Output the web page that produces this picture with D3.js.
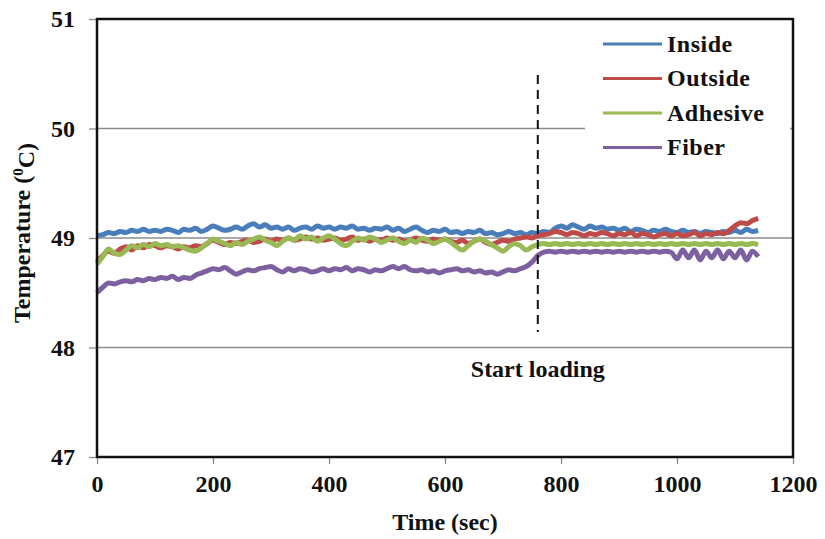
<!DOCTYPE html>
<html>
<head>
<meta charset="utf-8">
<script src="https://cdn.jsdelivr.net/npm/d3@7"></script>
<style>
  body { margin: 0; background: #fff; }
  text { font-family: "Liberation Serif", "Times New Roman", serif; font-weight: bold; fill: #111; }
</style>
</head>
<body>
<div id="chart"></div>
<script>
// time in seconds, one reading every 10 s
var times = d3.range(0, 1150, 10);

var inside = [
  49.02, 49.03, 49.05, 49.04, 49.06, 49.05, 49.07, 49.06, 49.08, 49.06,
  49.07, 49.06, 49.08, 49.07, 49.05, 49.08, 49.07, 49.09, 49.06, 49.08,
  49.11, 49.09, 49.07, 49.08, 49.10, 49.08, 49.11, 49.13, 49.10, 49.12,
  49.09, 49.10, 49.08, 49.10, 49.07, 49.09, 49.10, 49.08, 49.11, 49.09,
  49.10, 49.08, 49.10, 49.09, 49.11, 49.08, 49.09, 49.07, 49.09, 49.08,
  49.10, 49.07, 49.09, 49.06, 49.08, 49.10, 49.07, 49.05, 49.07, 49.06,
  49.08, 49.05, 49.06, 49.04, 49.06, 49.05, 49.07, 49.04, 49.05, 49.03,
  49.04, 49.06, 49.04, 49.05, 49.03, 49.05, 49.04, 49.06, 49.05, 49.09,
  49.11, 49.09, 49.12, 49.10, 49.08, 49.11, 49.09, 49.10, 49.08, 49.09,
  49.07, 49.09, 49.06, 49.08, 49.07, 49.05, 49.07, 49.06, 49.08, 49.06,
  49.05, 49.07, 49.05, 49.06, 49.04, 49.06, 49.05, 49.04, 49.06, 49.05,
  49.07, 49.05, 49.08, 49.06, 49.07
];
var outside = [
  48.78, 48.84, 48.88, 48.86, 48.90, 48.92, 48.89, 48.93, 48.91, 48.94,
  48.93, 48.91, 48.93, 48.92, 48.90, 48.92, 48.91, 48.93, 48.92, 48.95,
  48.98, 48.96, 48.94, 48.96, 48.95, 48.97, 48.98, 48.96, 48.97, 48.99,
  48.97, 48.99, 48.98, 49.00, 48.98, 48.99, 49.01, 48.99, 49.00, 48.98,
  48.99, 49.00, 48.98, 48.99, 49.01, 48.98, 48.99, 48.97, 48.99, 48.98,
  49.00, 48.98, 48.99, 48.97, 48.98, 49.00, 48.98, 48.97, 48.99, 48.98,
  48.99, 48.97, 48.96, 48.98, 48.95, 48.97, 48.99, 48.96, 48.94, 48.96,
  48.98, 48.97, 48.99, 49.00, 49.01, 49.00, 49.02, 49.03, 49.04, 49.06,
  49.05, 49.03, 49.05, 49.04, 49.02, 49.04, 49.03, 49.05, 49.04, 49.02,
  49.04, 49.03, 49.05, 49.02, 49.04, 49.03, 49.01, 49.03, 49.04, 49.02,
  49.04, 49.02, 49.03, 49.05, 49.02, 49.04, 49.03, 49.05, 49.04, 49.07,
  49.11, 49.14, 49.13, 49.16, 49.18
];
var adhesive = [
  48.76, 48.83, 48.90, 48.86, 48.85, 48.89, 48.93, 48.91, 48.94, 48.92,
  48.95, 48.93, 48.94, 48.92, 48.93, 48.91, 48.89, 48.88, 48.91, 48.95,
  48.99, 48.97, 48.95, 48.93, 48.96, 48.94, 48.97, 48.99, 49.01, 48.98,
  48.96, 48.93, 48.97, 49.00, 48.98, 49.02, 48.99, 49.01, 48.97, 49.00,
  49.02, 48.99, 48.95, 48.93, 48.97, 49.00, 48.98, 49.01, 48.99, 48.96,
  48.98, 49.00, 48.97, 48.95, 48.98, 48.96, 49.00, 48.98, 48.95, 48.97,
  48.99, 48.96, 48.92, 48.89, 48.93, 48.97, 48.99, 48.97, 48.94, 48.91,
  48.88, 48.92, 48.95, 48.93, 48.89, 48.92, 48.94, 48.95, 48.94, 48.95,
  48.94, 48.95, 48.94, 48.95, 48.94, 48.95, 48.94, 48.95, 48.94, 48.95,
  48.94, 48.95, 48.94, 48.95, 48.94, 48.95, 48.94, 48.95, 48.94, 48.95,
  48.94, 48.95, 48.94, 48.95, 48.94, 48.95, 48.94, 48.95, 48.94, 48.95,
  48.94, 48.95, 48.94, 48.95, 48.94
];
var fiber = [
  48.50, 48.55, 48.59, 48.58, 48.60, 48.61, 48.60, 48.62, 48.61, 48.63,
  48.62, 48.64, 48.63, 48.65, 48.62, 48.64, 48.63, 48.66, 48.68, 48.70,
  48.72, 48.71, 48.73, 48.70, 48.67, 48.69, 48.71, 48.70, 48.72, 48.73,
  48.74, 48.71, 48.69, 48.72, 48.70, 48.72, 48.71, 48.69, 48.70, 48.72,
  48.70, 48.72, 48.71, 48.73, 48.70, 48.72, 48.71, 48.69, 48.71, 48.70,
  48.72, 48.74, 48.72, 48.74, 48.71, 48.70, 48.71, 48.69, 48.70, 48.68,
  48.70, 48.71, 48.72, 48.70, 48.71, 48.69, 48.70, 48.68, 48.69, 48.67,
  48.69, 48.71, 48.70, 48.72, 48.74, 48.78, 48.84, 48.87, 48.88, 48.87,
  48.88, 48.87, 48.88, 48.87, 48.88, 48.87, 48.88, 48.87, 48.88, 48.87,
  48.88, 48.87, 48.88, 48.87, 48.88, 48.87, 48.88, 48.87, 48.88, 48.87,
  48.81, 48.89, 48.82, 48.89, 48.80, 48.88, 48.82, 48.89, 48.81, 48.88,
  48.82, 48.89, 48.80, 48.88, 48.83
];

var seriesNames = ["Inside", "Outside", "Adhesive", "Fiber"];
var seriesValues = [inside, outside, adhesive, fiber];
var seriesColors = ["#4a7ebb", "#be4b48", "#98b954", "#7d60a0"];
var loadingTime = 760;

var xTicks = [0, 200, 400, 600, 800, 1000, 1200];
var yTicks = [47, 48, 49, 50, 51];

var W = 825, H = 539;
var margin = {left: 97, right: 32, top: 19, bottom: 82};
var fontPx = "24px";

var svg = d3.select("#chart").append("svg")
    .attr("width", W)
    .attr("height", H);

var x = d3.scaleLinear().domain([0, 1200]).range([margin.left, W - margin.right]);
var y = d3.scaleLinear().domain([47, 51]).range([H - margin.bottom, margin.top]);

// gridlines
svg.append("g")
    .selectAll("line")
    .data(yTicks.filter(d => d > 47 && d < 51))
    .join("line")
    .attr("x1", x(0)).attr("x2", x(1200))
    .attr("y1", d => y(d)).attr("y2", d => y(d))
    .attr("stroke", "#8c8c8c")
    .attr("stroke-width", 1.3);

// axes
var yAxis = svg.append("g")
    .attr("transform", `translate(${x(0)},0)`)
    .call(d3.axisLeft(y).tickValues(yTicks).tickSize(8).tickPadding(14).tickFormat(d3.format("d")));
var xAxis = svg.append("g")
    .attr("transform", `translate(0,${y(47)})`)
    .call(d3.axisBottom(x).tickValues(xTicks).tickSize(7).tickPadding(11).tickFormat(d3.format("d")));
[yAxis, xAxis].forEach(a => {
    a.select(".domain").remove();
    a.selectAll(".tick line").attr("stroke", "#8c8c8c").attr("stroke-width", 1.3);
    a.selectAll(".tick text")
        .style("font-family", "'Liberation Serif', 'Times New Roman', serif")
        .style("font-weight", "bold")
        .style("font-size", fontPx)
        .attr("fill", "#111");
});

// series
var line = d3.line()
    .x((d, i) => x(times[i]))
    .y(d => y(d))
    .curve(d3.curveMonotoneX);

svg.append("g")
    .selectAll("path")
    .data(seriesValues)
    .join("path")
    .attr("d", d => line(d))
    .attr("fill", "none")
    .attr("stroke", (d, i) => seriesColors[i])
    .attr("stroke-width", 5)
    .attr("stroke-linejoin", "round");

// start of loading marker
svg.append("line")
    .attr("x1", x(loadingTime)).attr("x2", x(loadingTime))
    .attr("y1", 75).attr("y2", 332)
    .attr("stroke", "#111")
    .attr("stroke-width", 2)
    .attr("stroke-dasharray", "9,6");

svg.append("text")
    .attr("x", x(loadingTime))
    .attr("y", 377)
    .attr("text-anchor", "middle")
    .style("font-size", fontPx)
    .text("Start loading");

// legend
var legend = svg.append("g");
legend.append("rect")
    .attr("x", 585).attr("y", 26)
    .attr("width", 205).attr("height", 140)
    .attr("fill", "#fff");
var items = legend.selectAll("g")
    .data(seriesNames)
    .join("g")
    .attr("transform", (d, i) => `translate(603,${44 + i * 34.5})`);
items.append("line")
    .attr("x1", 0).attr("x2", 59)
    .attr("stroke", (d, i) => seriesColors[i])
    .attr("stroke-width", 3);
items.append("text")
    .attr("x", 64)
    .attr("dy", "0.33em")
    .style("font-size", fontPx)
    .style("letter-spacing", "0.5px")
    .text(d => d);

// plot frame
svg.append("rect")
    .attr("x", x(0)).attr("y", y(51))
    .attr("width", x(1200) - x(0))
    .attr("height", y(47) - y(51))
    .attr("fill", "none")
    .attr("stroke", "#111")
    .attr("stroke-width", 2.5);

// axis titles
svg.append("text")
    .attr("x", (x(0) + x(1200)) / 2)
    .attr("y", 530)
    .attr("text-anchor", "middle")
    .style("font-size", fontPx)
    .text("Time (sec)");

var yTitle = svg.append("text")
    .attr("transform", `translate(30,${(y(47) + y(51)) / 2 - 5}) rotate(-90)`)
    .attr("text-anchor", "middle")
    .style("font-size", fontPx);
yTitle.append("tspan").text("Temperature (");
yTitle.append("tspan").attr("dy", "-0.45em").style("font-size", "15px").text("0");
yTitle.append("tspan").attr("dy", "0.45em").text("C)");
</script>
</body>
</html>
